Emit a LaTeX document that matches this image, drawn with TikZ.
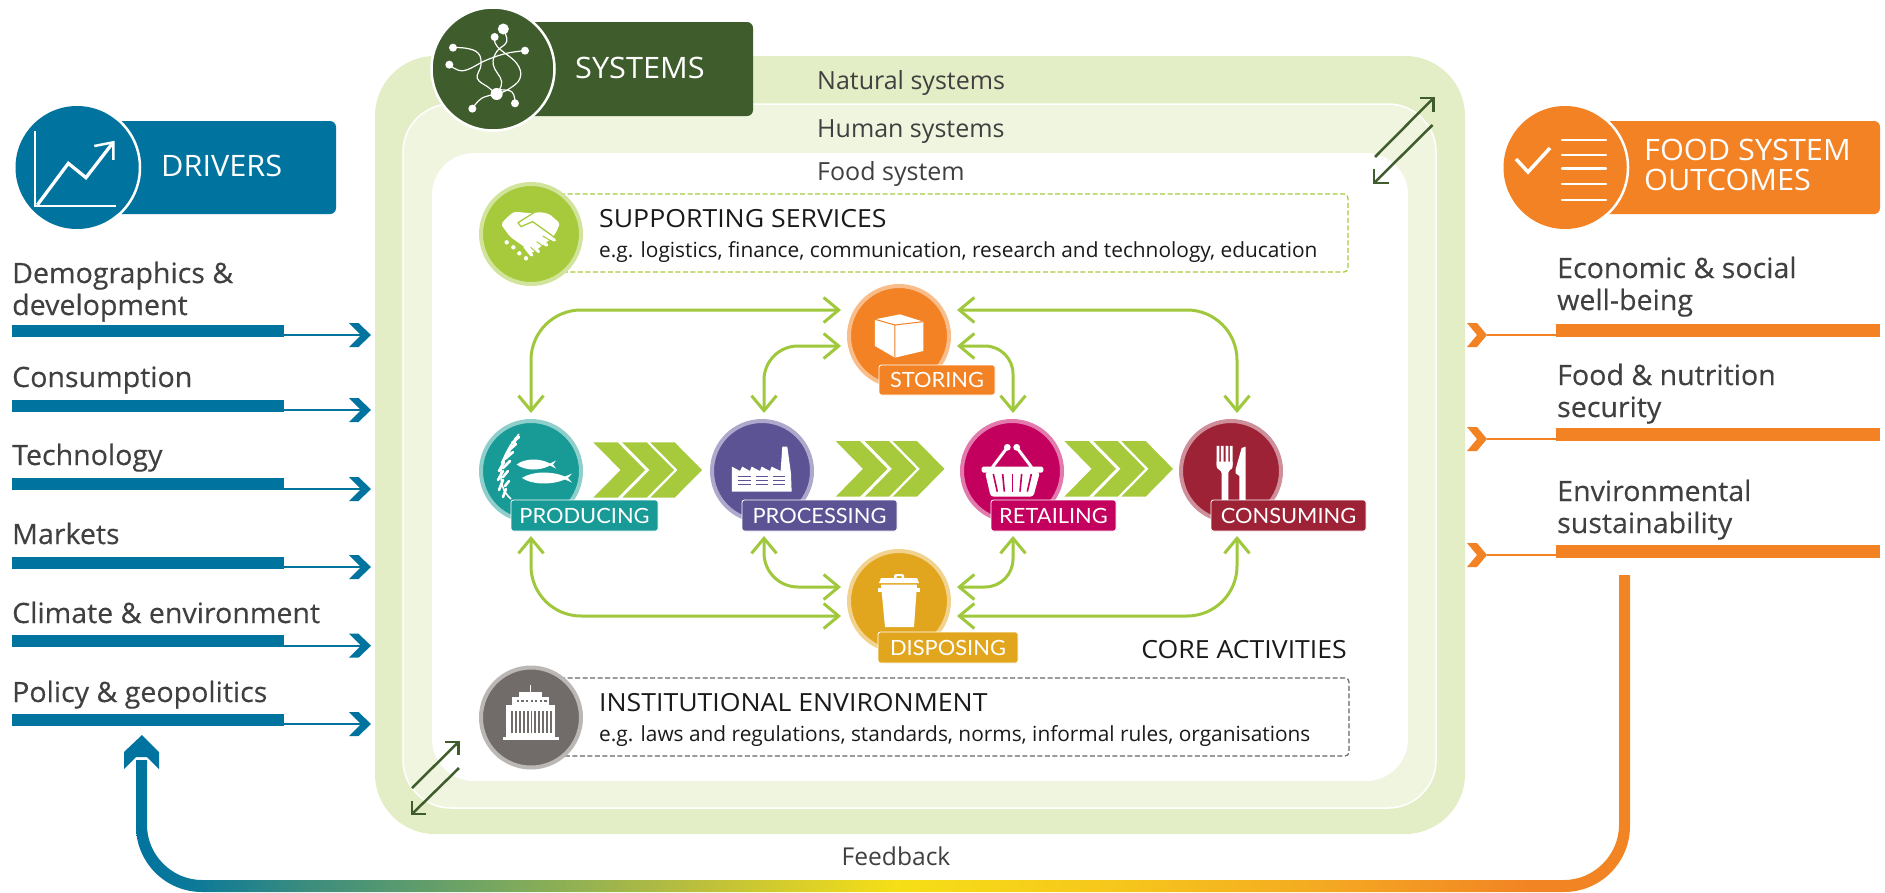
\documentclass[tikz,border=0pt]{standalone}
\usepackage{fontspec}
\setmainfont{Open Sans}
\newfontfamily\tagfont[FakeStretch=1.04]{Lato}
\newfontfamily\rowfont[FakeBold=0.3,FakeStretch=1.02]{Open Sans}
\newfontfamily\hdrfont[FakeStretch=1.04]{Open Sans}
\newfontfamily\titlefont[FakeStretch=1.066]{Open Sans}
\usetikzlibrary{arrows.meta}
\definecolor{hdrblue}{HTML}{00739F}
\definecolor{hdrgreen}{HTML}{3F5C2C}
\definecolor{hdrorange}{HTML}{F28224}
\definecolor{outerbg}{HTML}{E4EEC6}
\definecolor{humanbg}{HTML}{F0F5E0}
\definecolor{lime}{HTML}{A6CA3C}
\definecolor{linkgreen}{HTML}{A0C83C}
\definecolor{textgrey}{HTML}{404040}
\definecolor{textblack}{HTML}{1A1A1A}
\definecolor{prodc}{HTML}{189A96}\definecolor{prodr}{HTML}{8FCFCB}
\definecolor{procc}{HTML}{5C5394}\definecolor{procr}{HTML}{ADA8CC}
\definecolor{retc}{HTML}{C4005E}\definecolor{retr}{HTML}{E27AAD}
\definecolor{conc}{HTML}{9E2236}\definecolor{conr}{HTML}{CE8F9B}
\definecolor{storc}{HTML}{F28224}\definecolor{storr}{HTML}{F8BD8A}
\definecolor{dispc}{HTML}{E2A61E}\definecolor{dispr}{HTML}{F1D38F}
\definecolor{supr}{HTML}{D2E49C}
\definecolor{instc}{HTML}{716B69}\definecolor{instr}{HTML}{BBB7B5}
\definecolor{fba}{HTML}{00739F}\definecolor{fbb}{HTML}{0E7A98}
\definecolor{fbc}{HTML}{3B8C7E}\definecolor{fbd}{HTML}{7BA95E}
\definecolor{fbe}{HTML}{C0C13A}\definecolor{fbf}{HTML}{F6DF17}
\definecolor{fbg}{HTML}{F6C61C}\definecolor{fbh}{HTML}{F4A922}
\definecolor{fbi}{HTML}{F28424}
\pgfdeclarehorizontalshading{fbshade}{100bp}{color(0bp)=(fba); color(25bp)=(fba); color(27.14bp)=(fbb); color(30.62bp)=(fbc); color(37.45bp)=(fbd); color(44.28bp)=(fbe); color(50.44bp)=(fbf); color(57.93bp)=(fbg); color(64.8bp)=(fbh); color(71.59bp)=(fbi); color(75bp)=(fbi); color(100bp)=(fbi)}
\newcommand\fsz[2]{\fontsize{#1}{#2}\selectfont}
\tikzset{
 rowtext/.style={font=\rowfont\fsz{28}{32},text=textgrey,anchor=base west,inner sep=0pt,align=left},
 hdrtext/.style={font=\hdrfont\fsz{29.5}{30},text=white,anchor=base west,inner sep=0pt,align=left},
 systext/.style={font=\fsz{25}{30},text=textgrey,anchor=base west,inner sep=0pt},
 titletext/.style={font=\titlefont\fsz{25}{30},text=textblack,anchor=base west,inner sep=0pt},
 subtext/.style={font=\fsz{20.85}{25},text=textblack,anchor=base west,inner sep=0pt},
 stage/.style={circle,minimum size=100pt,inner sep=0pt,line width=4pt},
 hdrdisc/.style={circle,minimum size=123pt,inner sep=0pt,draw=white,line width=2.5pt},
 tag/.style={rectangle,rounded corners=2.5pt,draw=white,line width=.8pt,inner sep=0pt,text=white,font=\tagfont\fsz{21}{25}},
 link/.style={draw=linkgreen,line width=3pt,{Straight Barb[length=15pt,width=25pt,line width=3pt]}-{Straight Barb[length=15pt,width=25pt,line width=3pt]}},
 crosslink/.style={draw=hdrgreen,line width=2.5pt},
 dashedbox/.style={line width=1.2pt,dash pattern=on 5pt off 2.5pt,rounded corners=4pt},
}
\newcommand\chevrons[3]{% base x, top y, bottom y
 \foreach \d in {0,29,57}{\fill[lime] ({#1+\d},#2)--({#1+\d+24.3},#2)--({#1+\d+51.7},{(#2+#3)/2})--({#1+\d+24.3},#3)--({#1+\d},#3)--({#1+\d+27.3},{(#2+#3)/2})--cycle;}}
\begin{document}
\begin{tikzpicture}[x=1pt,y=-1pt]
\useasboundingbox (0,0) rectangle (1885,892);
% system frames
\fill[outerbg,rounded corners=60pt] (375,56) rectangle (1465,834);
\filldraw[fill=humanbg,draw=white,line width=1.5pt,rounded corners=48pt] (403,104) rectangle (1436,808);
\fill[white,rounded corners=42pt] (432,153) rectangle (1408,781);
% feedback band
\shade[shading=fbshade] (136,760) -- (136,826) .. controls (136,862.5) and (165.5,892) .. (202,892) -- (1564,892) .. controls (1600.5,892) and (1630,862.5) .. (1630,826) -- (1630,575) -- (1619,575) -- (1619,825) .. controls (1619,855) and (1594,880) .. (1564,880) -- (202,880) .. controls (172,880) and (147,855) .. (147,825) -- (147,760) -- cycle;
\fill[hdrblue] (142,735) -- (159,752) -- (159,769) -- (147,757) -- (136,757) -- (124,769) -- (124,752) -- cycle;
\node[font=\fsz{24.6}{28},text=textgrey,anchor=base,inner sep=0pt] (fbtext) at (896,865) {Feedback};

% cross-level double arrows
\coordinate (ua) at (1375,157); \coordinate (ub) at (1433.5,98);
\coordinate (uc) at (1432.5,125); \coordinate (ud) at (1374,183);
\coordinate (la) at (412,788); \coordinate (lb) at (458.5,742);
\coordinate (lc) at (459,768); \coordinate (ld) at (412,814);
\draw[crosslink] (ua) -- (ub); \draw[crosslink,miter limit=10] (1419.5,98) -- (ub) -- (1433.5,112);
\draw[crosslink] (uc) -- (ud); \draw[crosslink,miter limit=10] (1388.5,183) -- (ud) -- (1374,169);
\draw[crosslink] (la) -- (lb); \draw[crosslink,miter limit=10] (445,742) -- (lb) -- (458.5,755);
\draw[crosslink] (lc) -- (ld); \draw[crosslink,miter limit=10] (426,814) -- (ld) -- (412,801);

% system labels
\node[systext] (natural) at (817,89) {Natural systems};
\node[systext] (human) at (817,137) {Human systems};
\node[systext] (food) at (817,180) {Food system};

% headers
\fill[hdrblue,rounded corners=6pt] (100,121) rectangle (336,214);
\node[hdrdisc,fill=hdrblue,draw=none] (drvdisc) at (77,167.5) {};
\node[hdrtext] (drvtitle) at (161,176) {DRIVERS};
\fill[hdrgreen,rounded corners=6pt] (500,22) rectangle (753,116);
\node[hdrdisc,fill=hdrgreen] (sysdisc) at (493,69) {};
\node[hdrtext] (systitle) at (575,78) {SYSTEMS};
\fill[hdrorange,rounded corners=6pt] (1580,121) rectangle (1880,214);
\node[hdrdisc,fill=hdrorange,draw=none] (fsodisc) at (1565,167.5) {};
\node[hdrtext] (fsotitle) at (1644,190) {FOOD SYSTEM\\OUTCOMES};
% white ring arcs where discs meet their bars
\begin{scope}
\clip (100,121) rectangle (336,214);
\draw[white,line width=2.5pt] (77,167.5) circle[radius=63];
\end{scope}
\begin{scope}
\clip (1565,121) rectangle (1700,214);
\draw[white,line width=2.5pt] (1565,167.5) circle[radius=63];
\end{scope}

% drivers icon
\begin{scope}[shift={(0pt,-80pt)},x=.3333pt,y=-.3333pt]
\draw[white,line width=1.8pt] (105,152)--(105,378)--(348,378);
\draw[white,line width=3.3pt] (112,375)--(205,250)--(258,293)--(335,193);
\draw[white,line width=2.5pt] (283,198)--(340,187)--(340,240);
\end{scope}
% systems icon
\begin{scope}[shift={(400pt,0pt)},x=.3333pt,y=-.3333pt]
\draw[white,line width=1.2pt] plot[smooth,tension=.7] coordinates {(159,143)(200,145)(235,160)(243,195)(232,235)(265,262)(290,282)};
\draw[white,line width=1.2pt] plot[smooth,tension=.7] coordinates {(148,194)(190,212)(260,180)(320,160)(375,152)};
\draw[white,line width=1.2pt] plot[smooth,tension=.7] coordinates {(310,87)(320,125)(290,155)(280,195)(305,245)(290,282)};
\draw[white,line width=1.2pt] plot[smooth,tension=.7] coordinates {(284,111)(292,140)(350,190)(360,235)(325,268)(290,282)};
\draw[white,line width=1.2pt] plot[smooth,tension=.7] coordinates {(290,270)(335,275)(345,310)};
\draw[white,line width=1.2pt] plot[smooth,tension=.7] coordinates {(290,282)(245,295)(217,326)};
\foreach \x/\y/\r in {310/87/5.5,284/111/4,159/143/4,375/152/4,148/194/4,290/282/6,217/326/4,345/310/4}
  \fill[white] (\x,\y) circle[radius=\r pt];
\end{scope}
% outcomes icon
\draw[white,line width=3.5pt] (1516,159)--(1528,172)--(1550,148);
\foreach \y in {140,155.3,168.5,184,200}
  \draw[white,line width=2.2pt,line cap=round] (1562,\y)--(1606,\y);

% rows: drivers
\node[rowtext] (d1) at (12,315) {Demographics \&\\development};
\node[rowtext] (d2) at (12,387) {Consumption};
\node[rowtext] (d3) at (12,465) {Technology};
\node[rowtext] (d4) at (12,544) {Markets};
\node[rowtext] (d5) at (12,623) {Climate \& environment};
\node[rowtext] (d6) at (12,702) {Policy \& geopolitics};
\foreach \i/\t/\a in {1/325/335,2/400/410,3/478/489,4/557/567,5/635/645.7,6/714/724}{
  \fill[hdrblue] (12,\t) rectangle (284,{\t+12});
  \coordinate (dtip\i) at (361,\a);
  \draw[hdrblue,line width=2.2pt] (284,\a) -- (dtip\i);
  \fill[hdrblue] (349,{\a-12}) -- (358.5,{\a-12}) -- (371,\a) -- (358.5,{\a+12}) -- (349,{\a+12}) -- (361,\a) -- cycle;
}
% rows: outcomes
\node[rowtext] (o1) at (1557,310) {Economic \& social\\well-being};
\node[rowtext] (o2) at (1557,417) {Food \& nutrition\\security};
\node[rowtext] (o3) at (1557,533) {Environmental\\sustainability};
\foreach \i/\t/\a in {1/324/335,2/428/439,3/545/555}{
  \fill[hdrorange] (1556,\t) rectangle (1880,{\t+12.5});
  \coordinate (otip\i) at (1487,\a);
  \draw[hdrorange,line width=2.2pt] (otip\i) -- (1556,\a);
  \fill[hdrorange] (1467,{\a-12}) -- (1477,{\a-12}) -- (1487,\a) -- (1477,{\a+12}) -- (1467,{\a+12}) -- (1477,\a) -- cycle;
}

% dashed boxes
\draw[lime,dashedbox] (560,194) -- (1348,194) -- (1348,272) -- (560,272);
\draw[black!60,dashedbox] (560,678) -- (1349,678) -- (1349,756) -- (560,756);
\node[titletext] (sup) at (599,227) {SUPPORTING SERVICES};
\node[subtext] (supsub) at (599,257) {e.g. logistics, finance, communication, research and technology, education};
\node[titletext] (inst) at (599,711) {INSTITUTIONAL ENVIRONMENT};
\node[subtext] (instsub) at (599,741) {e.g. laws and regulations, standards, norms, informal rules, organisations};
\node[titletext,anchor=base east] (core) at (1347,658) {CORE ACTIVITIES};

% big chevrons
\chevrons{593.3}{442.3}{497.7}
\chevrons{835.7}{441}{496.7}
\chevrons{1064.3}{441}{496.7}

% connectors
\coordinate (pN) at (531,413); \coordinate (pS) at (531,536);
\coordinate (rN) at (764,413); \coordinate (rS) at (764,536);
\coordinate (tN) at (1013,413); \coordinate (tS) at (1013,536);
\coordinate (cN) at (1237,413); \coordinate (cS) at (1237,536);
\coordinate (sW1) at (841,310); \coordinate (sW2) at (841,346);
\coordinate (sE1) at (957,310); \coordinate (sE2) at (957,346);
\coordinate (dW1) at (841,616); \coordinate (dW2) at (841,587);
\coordinate (dE1) at (957,616); \coordinate (dE2) at (957,587);
\draw[link,rounded corners=50pt] (sW1) -| (pN);
\draw[link,rounded corners=34pt] (sW2) -| (rN);
\draw[link,rounded corners=50pt] (sE1) -| (cN);
\draw[link,rounded corners=28pt] (sE2) -| (tN);
\draw[link,rounded corners=50pt] (dW1) -| (pS);
\draw[link,rounded corners=34pt] (dW2) -| (rS);
\draw[link,rounded corners=50pt] (dE1) -| (cS);
\draw[link,rounded corners=28pt] (dE2) -| (tS);

% stage circles
\node[stage,fill=lime,draw=supr] (supc) at (531,234) {};
\node[stage,fill=instc,draw=instr] (instcirc) at (531,717.5) {};
\node[stage,fill=prodc,draw=prodr] (prod) at (531,471) {};
\node[stage,fill=procc,draw=procr] (proc) at (762,471) {};
\node[stage,fill=retc,draw=retr] (ret) at (1012,471) {};
\node[stage,fill=conc,draw=conr] (con) at (1231,471) {};
\node[stage,fill=storc,draw=storr] (stor) at (899,336) {};
\node[stage,fill=dispc,draw=dispr] (disp) at (899,601) {};

% handshake icon
\begin{scope}[shift={(490pt,-190pt)},x=.3333pt,y=-.3333pt]
\fill[white,rounded corners=2pt] (33,103)--(48,85)--(72,65)--(105,68)--(125,70)--(150,66)--(178,72)--(210,100)--(198,128)--(185,145)--(125,190)--(105,172)--(60,140)--cycle;
\foreach \a/\b/\c/\d in {150/125/193/150,135/140/170/165,120/155/145/185,105/170/125/195}
  \draw[white,line width=3.4pt,line cap=round] (\a,\b)--(\c,\d);
\foreach \a/\b in {50/157,70/172,88/190,108/205}
  \fill[white] (\a,\b) circle[radius=2.2pt];
\draw[lime,line width=1.3pt,line join=round] (132,68)--(84,98)--(93,110)--(128,95)--(195,143);
\draw[lime,line width=1pt] (158,138)--(192,158) (140,155)--(168,175) (122,172)--(148,195);
\end{scope}
% producing icon
\begin{scope}
\fill[white] (516.7,464.5) .. controls (525,458) and (540,458) .. (550,463.5) -- (556,460.5) -- (553,464.5) -- (556,468.5) -- (550,465.5) .. controls (540,471) and (525,471) .. (516.7,464.5) -- cycle;
\fill[white] (522,478) .. controls (532,471) and (552,471) .. (565,476.5) -- (572,473.5) -- (568,478) -- (572,482.5) -- (565,479.5) .. controls (552,485) and (532,485) .. (522,478) -- cycle;
\draw[white,line width=1.6pt] plot[smooth,tension=.7] coordinates {(519,434)(509,448)(503,462)(501,476)(504,490)(511,499)};
\foreach \a/\b/\c/\d in {516/438/513/447,511/445/508/455,507/453/502/463,504/462/499/471,503/471/498/480,503/480/499/490,506/489/503/497,512/443/519/437,508/451/516/444,505/459/513/452,503/468/510/461,503/477/508/471,505/486/509/481}
  \draw[white,line width=2.6pt,line cap=round] (\a,\b)--(\c,\d);
\end{scope}
% processing icon
\begin{scope}[shift={(470pt,-270pt)},x=.3333pt,y=-.3333pt]
\fill[white] (786,590)--(810,603)--(817,590)--(840,603)--(845,590)--(870,603)--(875,590)--(900,603)--(905,590)--(932,603)--(937,530)--(952,530)--(963,610)--(965,665)--(786,665)--cycle;
\foreach \x in {805,857,908}\foreach \y in {617,629,641}
  \fill[procc] (\x,\y) rectangle ({\x+37},{\y+5});
% storing icon
\fill[white] (1215,148)--(1290,133)--(1360,155)--(1360,243)--(1275,263)--(1215,228)--cycle;
\draw[storc,line width=1pt] (1215,148)--(1275,165)--(1360,155) (1275,165)--(1275,263);
\end{scope}
% retailing and consuming icons
\begin{scope}[shift={(900pt,-270pt)},x=.3333pt,y=-.3333pt]
\draw[white,line width=3pt] (277,592)--(322,532) (395,592)--(350,532);
\fill[white] (322,532) circle[radius=3.4pt] (350,532) circle[radius=3.4pt];
\fill[white,rounded corners=1.5pt] (245,590) rectangle (430,608);
\fill[white,rounded corners=3pt] (255,606)--(420,606)--(400,680)--(272,680)--cycle;
\foreach \a/\b in {280/292,308/313,338/338,365/360,394/382}
  \draw[retc,line width=1.6pt] (\a,612)--(\b,665);
\fill[white] (950,528) rectangle (958,585) (963,528) rectangle (971,585) (977,528) rectangle (985,585) (990,528) rectangle (998,585);
\fill[white] (950,575) -- (998,575) -- (998,590) .. controls (998,598) and (985,600) .. (985,610) -- (985,690) -- (965,690) -- (965,610) .. controls (965,600) and (950,598) .. (950,590) -- cycle;
\fill[white] (1007,598)--(1025,534)--(1037,530)--(1037,690)--(1018,690)--(1018,618)--(1007,610)--cycle;
\end{scope}
% disposing icon
\begin{scope}
\fill[white] (894,578) -- (894,575) -- (896,574) -- (902,574) -- (904,575) -- (904,578) -- (901.5,578) -- (901.5,576) -- (896.5,576) -- (896.5,578) -- cycle;
\fill[white] (881,578) -- (917,578) -- (919,583) -- (879,583) -- cycle;
\fill[white] (878,588) rectangle (920,592);
\fill[white] (881,584.5) -- (917,584.5) -- (914,627) -- (885,627) -- cycle;
\end{scope}
% institutional icon
\begin{scope}[shift={(400pt,-540pt)},x=.3827pt,y=-.3333pt]
\fill[white] (268,590) rectangle (415,600);
\fill[white] (277,495) rectangle (405,590);
\fill[white] (293,472) rectangle (390,495);
\fill[white] (310,457) rectangle (372,472);
\fill[white] (340.5,435) rectangle (343.5,457);
\foreach \x in {291,301,...,391} \fill[instc] (\x,512) rectangle ({\x+5},580);
\foreach \x in {305,317,...,377} \fill[instc] (\x,481) rectangle ({\x+6},487);
\end{scope}

% stage tags
\node[tag,fill=prodc,minimum width=147pt,minimum height=31pt] (prodtag) at (584.5,515.5) {PRODUCING};
\node[tag,fill=procc,minimum width=155pt,minimum height=31pt] (proctag) at (819.5,515.5) {PROCESSING};
\node[tag,fill=retc,minimum width=125pt,minimum height=31pt] (rettag) at (1053.5,515.5) {RETAILING};
\node[tag,fill=conc,minimum width=155pt,minimum height=31pt] (contag) at (1288.5,515.5) {CONSUMING};
\node[tag,fill=storc,minimum width=116pt,minimum height=30pt] (stortag) at (937,380) {STORING};
\node[tag,fill=dispc,minimum width=140pt,minimum height=31pt] (disptag) at (948,647.5) {DISPOSING};
\end{tikzpicture}
\end{document}
